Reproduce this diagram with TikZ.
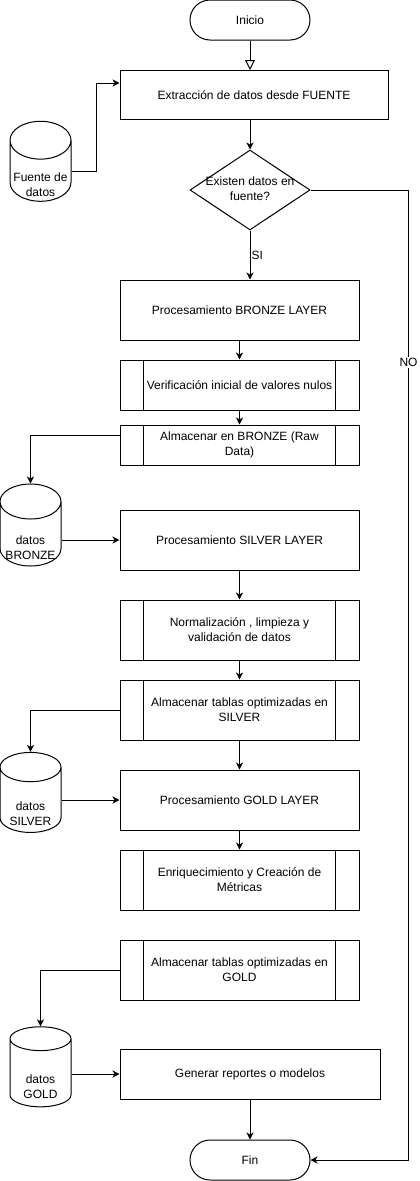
\documentclass[tikz,border=0pt]{standalone}
\usepackage{fontspec}
\setmainfont{Liberation Sans}
\usetikzlibrary{arrows.meta}
\usetikzlibrary{shapes.geometric}
\newcommand{\dblabel}[1]{\raisebox{-18pt}[0pt][0pt]{\begin{tabular}{@{}c@{}}#1\end{tabular}}}
\newcommand{\dectext}[1]{\makebox[0pt]{\begin{tabular}{@{}c@{}}#1\end{tabular}}}

\begin{document}
\begin{tikzpicture}[x=1pt,y=-1pt,line width=1pt]
		\tikzset{every node/.style = {font=\fontsize{12pt}{15pt}\selectfont,align=center,inner sep=0pt}}
		\tikzset{terminal/.style = {shape=rectangle,draw,rounded corners=20pt,minimum width=120pt,minimum height=40pt}}
		\tikzset{process/.style = {shape=rectangle,draw,minimum width=239pt,minimum height=60pt}}
		\tikzset{subprocess/.style = {process,path picture={
				\draw ([xshift=23pt]path picture bounding box.north west) -- ([xshift=23pt]path picture bounding box.south west);
				\draw ([xshift=-24pt]path picture bounding box.north east) -- ([xshift=-24pt]path picture bounding box.south east);}}}
		\tikzset{decision/.style = {shape=diamond,draw,minimum width=120pt,minimum height=80pt}}
		\tikzset{database/.style = {shape=cylinder,draw,shape border rotate=90,aspect=0.7,minimum width=61pt,minimum height=80pt}}
		\tikzset{edge/.style = {-{Stealth[length=7pt,width=7pt,inset=2pt]}}}
		\tikzset{start edge/.style = {-{Triangle[open,length=10pt,width=10pt]}}}
		\useasboundingbox (0,0) rectangle (420,1181);
		% vertices
		\node[terminal] (inicio) at (250,20) {Inicio};
		\node[process,minimum width=268pt,minimum height=49pt] (extr) at (254,95) {Extracción de datos desde FUENTE};
		\node[database] (fuente) at (40.5,171) {\dblabel{Fuente de\\datos}};
		\node[decision] (dec) at (250,190) {\dectext{Existen datos en\\fuente?}};
		\node[process] (bronze) at (239.5,310) {Procesamiento BRONZE LAYER};
		\node[subprocess,minimum height=50pt] (verif) at (239.5,385) {Verificación inicial de valores nulos};
		\node[subprocess,minimum height=40pt] (almb) at (239.5,445) {Almacenar en BRONZE (Raw\\Data)};
		\node[database,minimum height=82pt] (dbronze) at (30.5,534) {\dblabel{datos\\BRONZE}};
		\node[process] (silver) at (239.5,540) {Procesamiento SILVER LAYER};
		\node[subprocess] (norm) at (239.5,630) {Normalización , limpieza y\\validación de datos};
		\node[subprocess] (alms) at (239.5,710) {Almacenar tablas optimizadas en\\SILVER};
		\node[database] (dsilver) at (30.5,800) {\dblabel{datos\\SILVER}};
		\node[process] (gold) at (239.5,800) {Procesamiento GOLD LAYER};
		\node[subprocess] (enr) at (239.5,880) {Enriquecimiento y Creación de\\Métricas};
		\node[subprocess] (almg) at (239.5,970) {Almacenar tablas optimizadas en\\GOLD};
		\node[database] (dgold) at (40.5,1073) {\dblabel{datos\\GOLD}};
		\node[process,minimum width=260pt,minimum height=50pt] (gen) at (250,1074) {Generar reportes o modelos};
		\node[terminal] (fin) at (250,1160) {Fin};
		\coordinate (nocorner) at ([xshift=98pt]dec.east);
		% edges
		\path[start edge] (inicio) edge (inicio |- extr.north);
		\draw[edge] (fuente.east) -- ++(25,0) |- ([yshift=12pt]extr.west);
		\path[edge] (dec.north |- extr.south) edge (dec.north);
		\path[edge] (dec.south) edge node[right,inner sep=1pt] {SI} (dec.south |- bronze.north);
		\draw[edge] (dec.east) -- (nocorner) |- (fin.east) node[pos=0.089,fill=white,inner sep=1pt] {NO};
		\path[edge] (bronze) edge (verif);
		\path[edge] (verif) edge (almb);
		\draw[edge] ([yshift=10pt]almb.west) -| (dbronze.north);
		\path[edge] (dbronze.east |- silver) edge (silver.west);
		\path[edge] (silver) edge (norm);
		\path[edge] (norm) edge (alms);
		\draw[edge] (alms.west) -| (dsilver.north);
		\path[edge] (alms) edge (gold);
		\path[edge] (dsilver.east) edge (gold.west);
		\path[edge] (gold) edge (enr);
		\draw[edge] (almg.west) -| (dgold.north);
		\path[edge] (dgold.east |- gen) edge (gen.west);
		\path[edge] (gen) edge (fin);
		\end{tikzpicture}
\end{document}
